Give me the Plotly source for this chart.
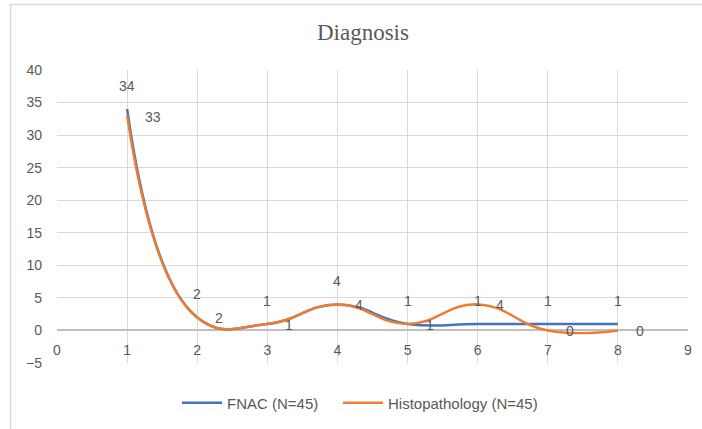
import plotly.graph_objects as go

x_vals = [1, 2, 3, 4, 5, 6, 7, 8]
fnac = [34, 2, 1, 4, 1, 1, 1, 1]
histo = [33, 2, 1, 4, 1, 4, 0, 0]
x_ticks = [0, 1, 2, 3, 4, 5, 6, 7, 8, 9]
y_ticks = [-5, 0, 5, 10, 15, 20, 25, 30, 35, 40]

BLUE = "#4472C4"
ORANGE = "#ED7D31"
GREY = "#595959"
FONT = "Liberation Sans"

fig = go.Figure()
fig.add_trace(go.Scatter(x=x_vals, y=fnac, mode="lines", name="FNAC (N=45)", legend="legend",
                         line=dict(color=BLUE, width=2.5, shape="spline", smoothing=1.3)))
fig.add_trace(go.Scatter(x=x_vals, y=histo, mode="lines", name="Histopathology (N=45)",
                         legend="legend2",
                         line=dict(color=ORANGE, width=2.5, shape="spline", smoothing=1.3)))

ann = []
for xv, yv in zip(x_vals, fnac):
    ann.append(dict(x=xv, y=yv, xref="x", yref="y", text=str(yv), showarrow=False,
                    yshift=23, font=dict(family=FONT, size=14, color=GREY)))
for xv, yv in zip(x_vals, histo):
    ann.append(dict(x=xv, y=yv, xref="x", yref="y", text=str(yv), showarrow=False,
                    xanchor="left", xshift=16, yshift=-1,
                    font=dict(family=FONT, size=14, color=GREY)))

legend_common = dict(orientation="h", xanchor="left", y=-0.08, yanchor="top",
                     font=dict(family=FONT, size=15, color=GREY), itemwidth=40,
                     bgcolor="rgba(0,0,0,0)")

fig.update_layout(
    width=702, height=429,
    margin=dict(l=57, r=14, t=70, b=66, autoexpand=False),
    paper_bgcolor="white", plot_bgcolor="white",
    title=dict(text="Diagnosis", x=0.517, xanchor="center", y=0.925, yanchor="middle",
               font=dict(family="Times New Roman, Liberation Serif, DejaVu Serif, serif",
                         size=23, color=GREY)),
    xaxis=dict(range=[0, 9], tickvals=x_ticks, ticktext=[str(t) for t in x_ticks],
               showgrid=True, gridcolor="#D9D9D9", gridwidth=1, zeroline=False,
               showline=False, anchor="free", position=5 / 45, ticks="",
               automargin=False, ticklabelstandoff=10,
               tickfont=dict(family=FONT, size=14, color=GREY), fixedrange=True),
    yaxis=dict(range=[-5, 40], tickvals=y_ticks, showgrid=True, gridcolor="#D9D9D9",
               gridwidth=1, zeroline=True, zerolinecolor="#BFBFBF", zerolinewidth=1.5,
               showline=False, ticks="", ticklabelstandoff=14, automargin=False,
               tickfont=dict(family=FONT, size=14, color=GREY), domain=[0, 1]),
    legend=dict(x=(177 - 57) / 631, **legend_common),
    legend2=dict(x=(338 - 57) / 631, **legend_common),
    annotations=ann,
    showlegend=True,
)
# outer chart border (left & top visible)
fig.add_shape(type="rect", xref="paper", yref="paper",
              x0=(10.5 - 57) / 631, x1=(720 - 57) / 631,
              y0=(363 - 440) / 293, y1=(363 - 4.5) / 293,
              line=dict(color="#D9D9D9", width=1.5), layer="below")

fig.write_html("out.html", config={"displayModeBar": False},
               post_script="document.body.style.margin='0px';document.body.style.padding='0px';")
